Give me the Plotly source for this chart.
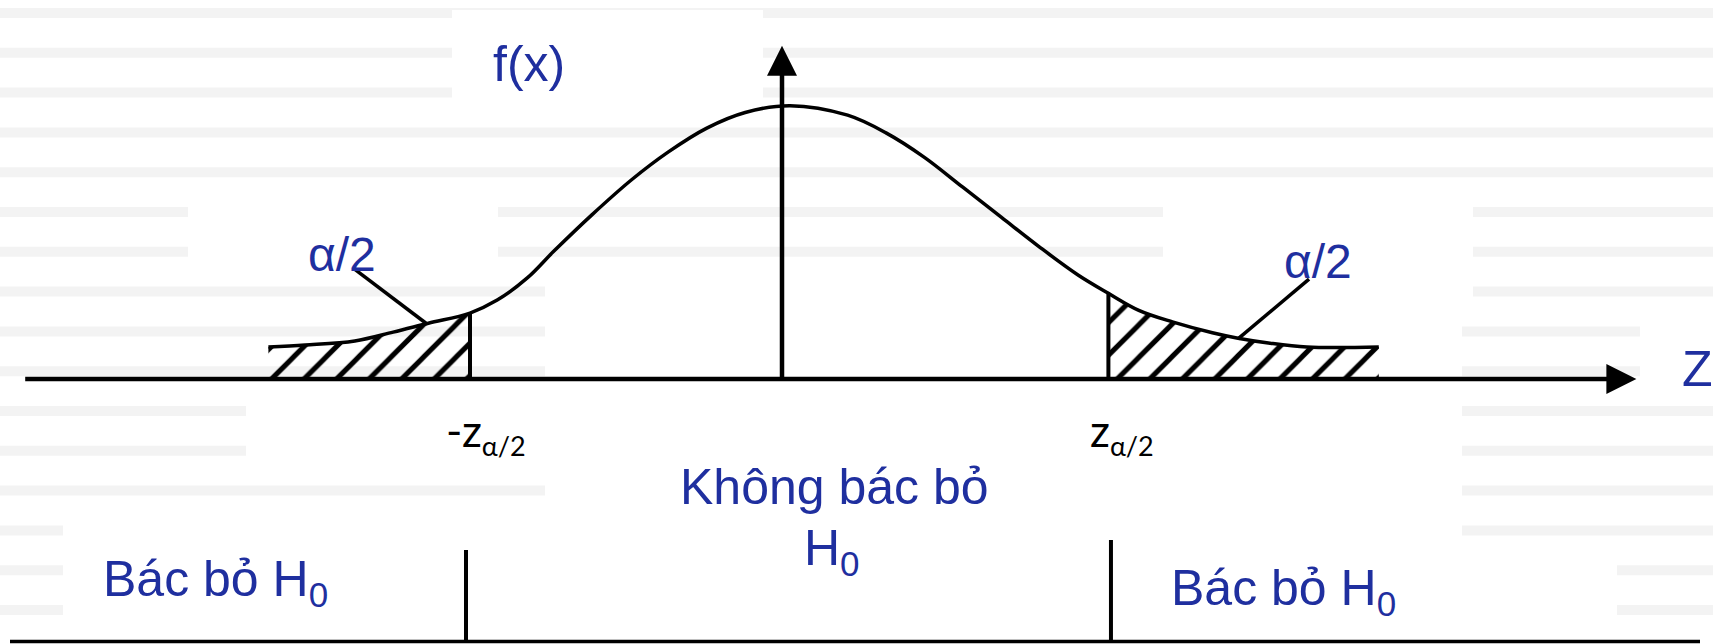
import plotly.graph_objects as go

# ---------------- data ----------------
# density curve (z, f(z)) as drawn (hand-drawn bell curve)
curve_z = [-3.21, -2.98, -2.67, -2.43, -2.21, -1.95, -1.78, -1.59, -1.43, -1.19,
           -0.94, -0.71, -0.47, -0.23, 0.05, 0.41, 0.65, 0.89, 1.13,
           1.37, 1.61, 1.85, 2.04, 2.23, 2.44, 2.69, 2.85, 3.04, 3.28, 3.73]
curve_f = [0.047, 0.050, 0.056, 0.069, 0.082, 0.097, 0.116, 0.149, 0.187, 0.241,
           0.293, 0.334, 0.369, 0.392, 0.402, 0.388, 0.362, 0.326, 0.282,
           0.238, 0.194, 0.153, 0.126, 0.101, 0.084, 0.068, 0.060, 0.053, 0.047, 0.047]
crit_values = [-1.95, 2.04]            # -z_{a/2}, z_{a/2}
region_bounds = [-1.975, 2.056]        # separators of the decision regions
z_axis_extent = [-4.73, 5.34]          # horizontal axis (arrow tip at the end)
f_axis_top = 0.49                      # vertical axis arrow tip
leader_left = ([-2.68, -2.225], [0.163, 0.082])
leader_right = ([2.85, 3.294], [0.059, 0.147])

labels = {
    "fx": "f(x)",
    "alpha": "α/2",
    "Z": "Z",
    "neg": "-z<sub><span style='font-size:27px'>α/2</span></sub>",
    "pos": "z<sub><span style='font-size:27px'>α/2</span></sub>",
    "accept1": "Không bác bỏ",
    "accept2": "H<sub>0</sub>",
    "reject": "Bác bỏ H<sub>0</sub>",
}

# ---------------- figure geometry ----------------
W, H = 1713, 644
X0_PX, XSCALE = 782, 160.0
Y0_PX, YSCALE = 379, 680.0
x_range = [(0 - X0_PX) / XSCALE, (W - X0_PX) / XSCALE]
y_range = [(Y0_PX - H) / YSCALE, Y0_PX / YSCALE]

def px(x):
    return x / W

def py(y):
    return 1 - y / H

BLUE = "#1f2f9f"
ARIAL = "Liberation Sans, Arial, sans-serif"
CAL = "Lato, Carlito, sans-serif"

fig = go.Figure()

# hatched tails
left_idx = [i for i, z in enumerate(curve_z) if z <= crit_values[0] + 1e-9]
right_idx = [i for i, z in enumerate(curve_z) if z >= crit_values[1] - 1e-9]
for idx in (left_idx, right_idx):
    fig.add_trace(go.Scatter(
        x=[curve_z[i] for i in idx], y=[curve_f[i] for i in idx],
        mode="lines", line=dict(width=0, shape="spline", smoothing=1.0),
        fill="tozeroy", fillcolor="rgba(0,0,0,0)",
        fillpattern=dict(shape="/", size=23, solidity=0.22,
                         fgcolor="black", bgcolor="rgba(0,0,0,0)", fillmode="replace"),
        hoverinfo="skip"))

# bell curve
fig.add_trace(go.Scatter(x=curve_z, y=curve_f, mode="lines",
                         line=dict(color="black", width=3.5, shape="spline", smoothing=1.0),
                         hoverinfo="skip"))

# horizontal axis + arrow
fig.add_trace(go.Scatter(x=[z_axis_extent[0], z_axis_extent[1] - 0.1], y=[0, 0], mode="lines",
                         line=dict(color="black", width=4.5), hoverinfo="skip"))
fig.add_trace(go.Scatter(x=[z_axis_extent[1]], y=[0], mode="markers",
                         marker=dict(symbol="arrow-right", size=30, color="black",
                                     line=dict(width=0)), hoverinfo="skip"))
# vertical axis + arrow
fig.add_trace(go.Scatter(x=[0, 0], y=[0, f_axis_top - 0.02], mode="lines",
                         line=dict(color="black", width=4.5), hoverinfo="skip"))
fig.add_trace(go.Scatter(x=[0], y=[f_axis_top], mode="markers",
                         marker=dict(symbol="arrow-up", size=30, color="black",
                                     line=dict(width=0)), hoverinfo="skip"))

# critical value lines (axis up to curve)
for i, c in zip((left_idx[-1], right_idx[0]), crit_values):
    fig.add_trace(go.Scatter(x=[c, c], y=[0, curve_f[i]], mode="lines",
                             line=dict(color="black", width=4), hoverinfo="skip"))

# leader lines for alpha/2
for lx, ly in (leader_left, leader_right):
    fig.add_trace(go.Scatter(x=lx, y=ly, mode="lines",
                             line=dict(color="black", width=3.5), hoverinfo="skip"))

# ---------------- background stripes & white boxes ----------------
shapes = []
for k in range(16):
    top = 8 + 39.8 * k
    shapes.append(dict(type="rect", xref="paper", yref="paper", layer="below",
                       x0=0, x1=1, y0=py(top + 10), y1=py(top),
                       fillcolor="#f3f3f3", line=dict(width=0)))
boxes = [(452, 763, 10, 118), (188, 498, 190, 280), (1163, 1473, 190, 300),
         (545, 1462, 280, 644), (246, 545, 400, 484), (63, 545, 500, 644),
         (1640, 1713, 318, 400), (1462, 1617, 545, 644)]
for x0, x1, y0, y1 in boxes:
    shapes.append(dict(type="rect", xref="paper", yref="paper", layer="below",
                       x0=px(x0), x1=px(x1), y0=py(y1), y1=py(y0),
                       fillcolor="white", line=dict(width=0)))

# decision-region separators and bottom line
shapes.append(dict(type="line", xref="x", yref="paper", x0=region_bounds[0], x1=region_bounds[0],
                   y0=py(550), y1=py(643), line=dict(color="black", width=4)))
shapes.append(dict(type="line", xref="x", yref="paper", x0=region_bounds[1], x1=region_bounds[1],
                   y0=py(540), y1=py(643), line=dict(color="black", width=4)))
shapes.append(dict(type="line", xref="paper", yref="paper", x0=px(10), x1=px(1700),
                   y0=py(641.5), y1=py(641.5), line=dict(color="black", width=3.5)))

# ---------------- text ----------------
def ann(text, x, y, size, color=BLUE, family=ARIAL, xanchor="center"):
    return dict(text=text, x=px(x), y=py(y), xref="paper", yref="paper",
                xanchor=xanchor, yanchor="middle", showarrow=False,
                font=dict(size=size, color=color, family=family))

annotations = [
    ann(labels["fx"], 529, 64, 50),
    ann(labels["alpha"], 342, 254, 48),
    ann(labels["alpha"], 1318, 262, 48),
    ann(labels["Z"], 1680, 369, 50, xanchor="left"),
    ann(labels["neg"], 444, 433, 44, color="black", family=CAL, xanchor="left"),
    ann(labels["pos"], 1088, 433, 44, color="black", family=CAL, xanchor="left"),
    ann(labels["accept1"], 834, 487, 50),
    ann(labels["accept2"], 832, 551, 50),
    ann(labels["reject"], 101, 582, 50, xanchor="left"),
    ann(labels["reject"], 1169, 591, 50, xanchor="left"),
]

fig.update_layout(
    width=W, height=H, margin=dict(l=0, r=0, t=0, b=0, pad=0),
    paper_bgcolor="white", plot_bgcolor="rgba(0,0,0,0)",
    showlegend=False, hovermode=False,
    xaxis=dict(range=x_range, visible=False, fixedrange=True),
    yaxis=dict(range=y_range, visible=False, fixedrange=True),
    shapes=shapes, annotations=annotations,
)

fig.write_html("out.html", config={"displayModeBar": False},
               post_script="document.body.style.margin='0';document.body.style.overflow='hidden';")
